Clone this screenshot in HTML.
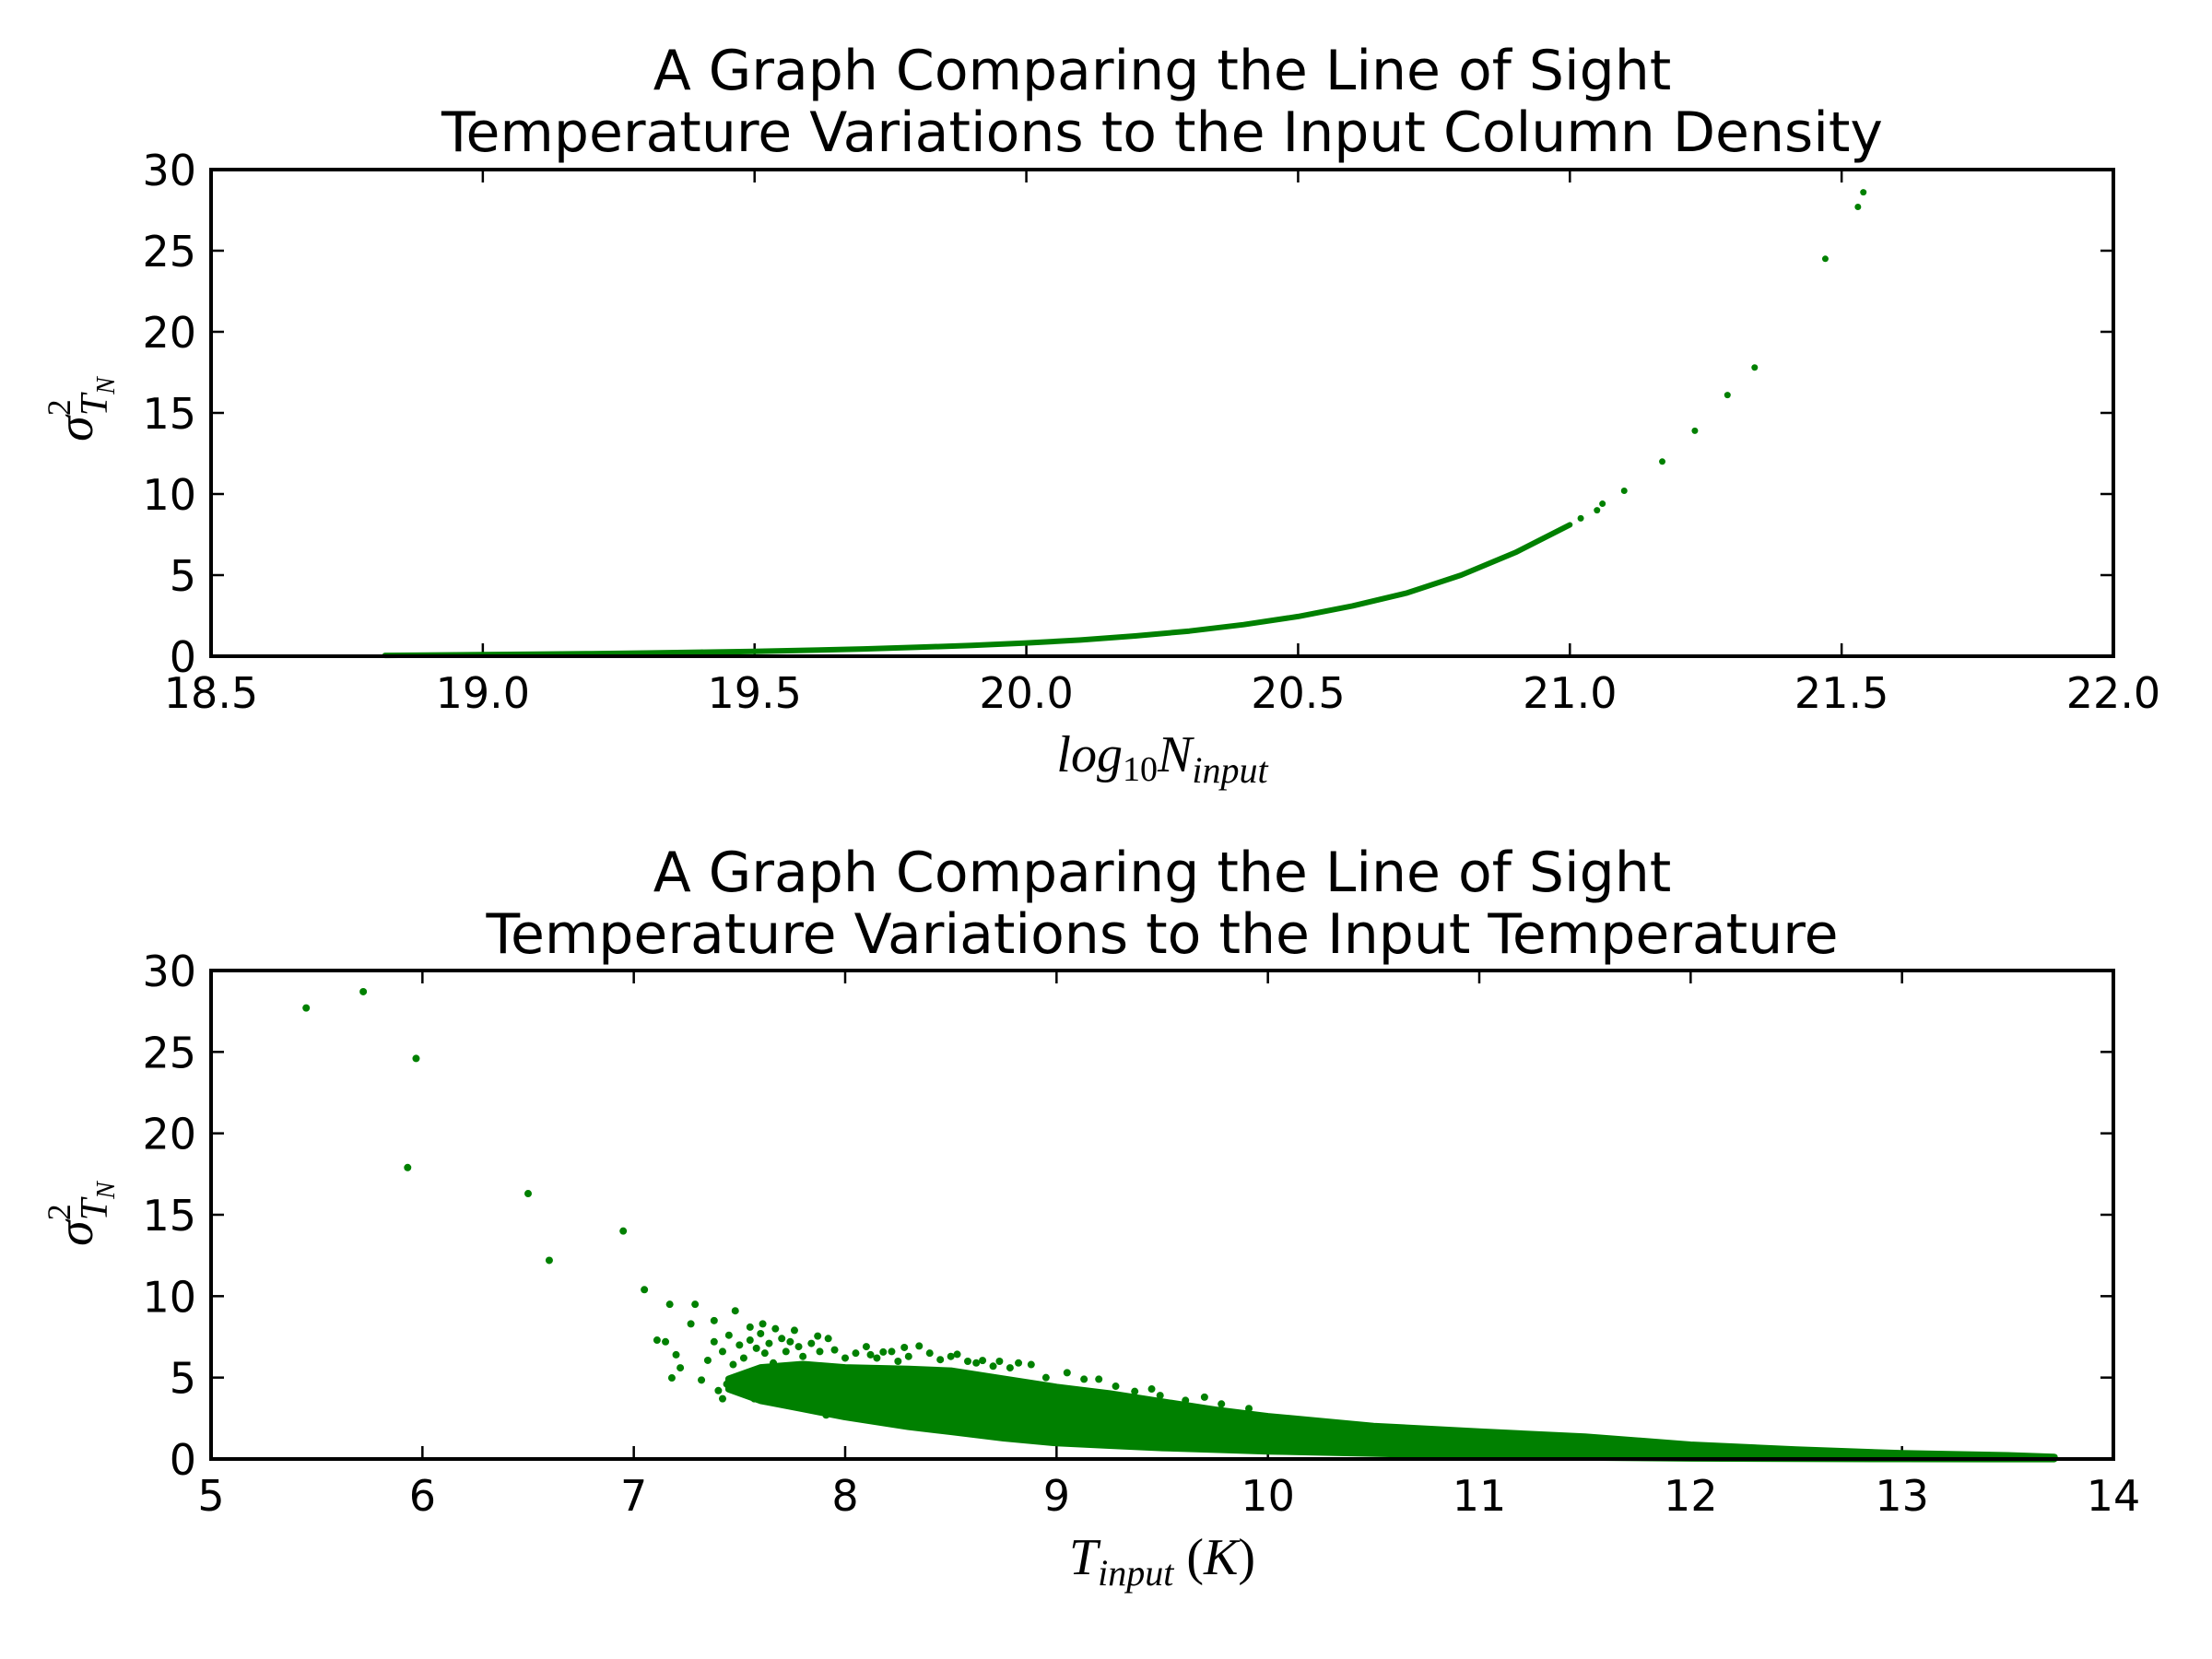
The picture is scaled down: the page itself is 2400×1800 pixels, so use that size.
<!DOCTYPE html>
<html><head><meta charset="utf-8">
<style>
html,body{margin:0;padding:0;background:#fff;}
svg{display:block;}
text{font-family:"DejaVu Sans","Liberation Sans",sans-serif;fill:#000;}
.math{font-family:"Liberation Serif","DejaVu Serif",serif;font-style:italic;}
</style></head>
<body>
<svg id="fig" width="2400" height="1800" viewBox="0 0 2400 1800" xmlns="http://www.w3.org/2000/svg">
<g id="top"></g>
<g id="bot"></g>
</svg>
<script>
// ---- Top chart data ----
const topXTicks = [18.5, 19.0, 19.5, 20.0, 20.5, 21.0, 21.5, 22.0];
const topXTickLabels = ["18.5","19.0","19.5","20.0","20.5","21.0","21.5","22.0"];
const yTicks = [0, 5, 10, 15, 20, 25, 30];
const yTickLabels = ["0","5","10","15","20","25","30"];
const curveN = [18.82,18.9,19.0,19.1,19.2,19.3,19.4,19.5,19.6,19.7,19.8,19.9,20.0,20.1,20.2,20.3,20.4,20.5,20.6,20.7,20.8,20.9,21.0];
const curveVar = [0.05,0.07,0.1,0.13,0.16,0.2,0.25,0.3,0.37,0.45,0.55,0.67,0.82,1.0,1.25,1.55,1.95,2.45,3.1,3.9,5.0,6.4,8.1];
const sparseN = [21.02,21.05,21.06,21.10,21.17,21.23,21.29,21.34,21.47,21.53,21.54];
const sparseVar = [8.5,9.0,9.4,10.2,12.0,13.9,16.1,17.8,24.5,27.7,28.6];

// ---- Bottom chart data ----
const botXTicks = [5,6,7,8,9,10,11,12,13,14];
const botXTickLabels = ["5","6","7","8","9","10","11","12","13","14"];
const bandT = [7.45,7.6,7.8,8.0,8.3,8.5,8.75,9.0,9.25,9.5,9.75,10.0,10.5,11.0,11.5,12.0,12.5,13.0,13.5,13.72];
const bandHigh = [4.9,5.6,5.8,5.6,5.5,5.4,4.9,4.4,4.0,3.5,3.0,2.6,2.0,1.65,1.35,0.85,0.55,0.32,0.2,0.1];
const bandLow = [4.3,3.6,3.1,2.6,2.0,1.7,1.3,1.0,0.85,0.7,0.6,0.5,0.36,0.22,0.12,0.06,0.04,0.03,0.02,0.02];
const ptT = [5.45,5.72,5.97,5.93,6.5,6.6,6.95,7.05,7.17,7.29,7.48,7.27,7.11,7.15,7.2,7.22,7.18,7.38,7.35,7.32,7.42,7.4,7.55,7.61,7.67,7.76,7.87,7.92,7.57,7.5,8.28,8.35,8.12,8.18,8.53,8.65,8.73,8.88,8.95,9.13,9.28,9.37,9.49,9.61,9.78,9.91,7.91,7.82,7.67,8.06,
  7.38,7.42,7.45,7.47,7.5,7.52,7.55,7.58,7.6,7.62,7.64,7.66,7.7,7.72,7.74,7.78,7.8,7.84,7.88,7.95,8.0,8.05,8.1,8.15,8.22,8.25,8.3,8.4,8.45,8.5,8.58,8.62,8.7,8.78,8.82,9.05,9.2,9.45,9.7,7.44,7.53,7.63,7.7,7.85,7.98];
const ptVar = [27.7,28.7,24.6,17.9,16.3,12.2,14.0,10.4,9.5,9.5,9.1,8.3,7.3,7.2,6.4,5.6,4.98,8.5,6.06,4.85,3.7,4.2,8.1,8.3,8.0,7.9,7.55,7.4,3.7,4.2,6.85,6.94,6.4,6.57,6.43,6.05,6.0,5.8,5.0,4.9,4.47,4.15,3.9,3.6,3.38,3.1,2.7,3.2,3.94,2.8,
  7.2,6.6,7.6,5.8,7.0,6.2,7.3,6.8,7.7,6.5,7.1,5.9,7.4,6.6,7.2,6.9,6.3,7.1,6.6,6.7,6.2,6.5,6.9,6.2,6.6,6.0,6.3,6.5,6.1,6.3,6.0,5.9,5.7,5.6,5.9,5.3,4.9,4.3,3.8,4.6,4.4,4.0,3.4,3.9,3.3];

const NS = "http://www.w3.org/2000/svg";
const GREEN = "#008000";
function mk(tag, attrs, parent){
  const e = document.createElementNS(NS, tag);
  for (const k in attrs) e.setAttribute(k, attrs[k]);
  parent.appendChild(e);
  return e;
}
const L = 229, R = 2293;

function axes(g, top, bottom, xmin, xmax, xt, xtl, titles, tb1, name){
  const sx = v => L + (v - xmin) / (xmax - xmin) * (R - L);
  const sy = v => bottom - v / 30 * (bottom - top);
  const t1 = mk("text", {x:1261, y:tb1, "text-anchor":"middle", "font-size":60}, g);
  t1.textContent = titles[0];
  
  
  const t2 = mk("text", {x:1261, y:tb1+67, "text-anchor":"middle", "font-size":60}, g);
  t2.textContent = titles[1];
  
  
  const tg = mk("g", {stroke:"#000","stroke-width":2.5}, g);
  
  
  xt.forEach((v, i) => {
    const x = sx(v);
    mk("line", {x1:x, x2:x, y1:bottom, y2:bottom-14}, tg);
    mk("line", {x1:x, x2:x, y1:top, y2:top+14}, tg);
    const lb = mk("text", {x:x, y:bottom+56, "text-anchor":"middle", "font-size":46}, g);
    lb.textContent = xtl[i];
    
    
  });
  yTicks.forEach((v, i) => {
    const y = sy(v);
    mk("line", {x1:L, x2:L+14, y1:y, y2:y}, tg);
    mk("line", {x1:R, x2:R-14, y1:y, y2:y}, tg);
    const lb = mk("text", {x:213, y:y+17, "text-anchor":"end", "font-size":46}, g);
    lb.textContent = yTickLabels[i];
    
    
  });
  return {sx, sy};
}
function frame(g, top, bottom, name){
  const f = mk("rect", {x:L, y:top, width:R-L, height:bottom-top, fill:"none", stroke:"#000", "stroke-width":4}, g);
  
  
}
function ylabel(g, cx, cy, name){
  const t = mk("text", {transform:`translate(${cx},${cy}) rotate(-90)`, "text-anchor":"middle", "font-size":56, class:"math"}, g);
  t.innerHTML = 'σ<tspan dy="-24" font-size="36" font-style="normal">2</tspan><tspan dx="-18" dy="40" font-size="42">T</tspan><tspan dy="8" font-size="28">N</tspan>';
  
  
}

// ---- Top chart ----
const gT = document.getElementById("top");
const T_TOP = 184, T_BOT = 712;
const a1 = axes(gT, T_TOP, T_BOT, 18.5, 22.0, topXTicks, topXTickLabels,
  ["A Graph Comparing the Line of Sight","Temperature Variations to the Input Column Density"], 97, "top");
const pts = curveN.map((v,i)=>a1.sx(v).toFixed(1)+","+a1.sy(curveVar[i]).toFixed(1)).join(" ");
const curve = mk("polyline", {points:pts, fill:"none", stroke:GREEN, "stroke-width":6, "stroke-linecap":"round", "stroke-linejoin":"round"}, gT);


sparseN.forEach((v,i)=>{
  const c = mk("circle", {cx:a1.sx(v), cy:a1.sy(sparseVar[i]), r:3.5, fill:GREEN}, gT);
  
  
});
frame(gT, T_TOP, T_BOT, "top");
ylabel(gT, 100, 444, "top");
const xl1 = mk("text", {x:1261, y:837, "text-anchor":"middle", "font-size":56, class:"math"}, gT);
xl1.innerHTML = 'log<tspan dy="10" font-size="38" font-style="normal">10</tspan><tspan dy="-10">N</tspan><tspan dy="12" font-size="40">input</tspan>';



// ---- Bottom chart ----
const gB = document.getElementById("bot");
const B_TOP = 1053, B_BOT = 1583;
const a2 = axes(gB, B_TOP, B_BOT, 5, 14, botXTicks, botXTickLabels,
  ["A Graph Comparing the Line of Sight","Temperature Variations to the Input Temperature"], 967, "bottom");
let bp = bandT.map((v,i)=>a2.sx(v).toFixed(1)+","+a2.sy(bandHigh[i]).toFixed(1));
for (let i = bandT.length-1; i >= 0; i--) bp.push(a2.sx(bandT[i]).toFixed(1)+","+a2.sy(bandLow[i]).toFixed(1));
const band = mk("polygon", {points:bp.join(" "), fill:GREEN, stroke:GREEN, "stroke-width":8, "stroke-linejoin":"round"}, gB);


ptT.forEach((v,i)=>{
  const c = mk("circle", {cx:a2.sx(v), cy:a2.sy(ptVar[i]), r:4, fill:GREEN}, gB);
  
  
});
frame(gB, B_TOP, B_BOT, "bottom");
ylabel(gB, 100, 1317, "bottom");
const xl2 = mk("text", {x:1261, y:1708, "text-anchor":"middle", "font-size":56, class:"math"}, gB);
xl2.innerHTML = 'T<tspan dy="12" font-size="40">input</tspan><tspan dy="-12" font-style="normal"> (</tspan>K<tspan font-style="normal">)</tspan>';


</script>
</body></html>
